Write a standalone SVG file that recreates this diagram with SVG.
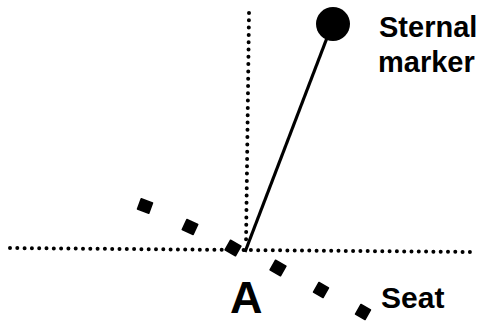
<svg xmlns="http://www.w3.org/2000/svg" width="485" height="328" viewBox="0 0 485 328">
<style>
.dot{fill:none;stroke:#000;stroke-width:4;stroke-linecap:round;stroke-dasharray:0 7.3}
.sq{fill:#000;stroke:#000;stroke-width:1.5;stroke-linejoin:round}
.lbl{font-family:"Liberation Sans",Arial,sans-serif;font-weight:bold;fill:#000}
</style>
<rect width="485" height="328" fill="#fff"/>
<g id="axes">
<line class="dot" x1="10" y1="248" x2="476" y2="252"/>
<line class="dot" x1="249" y1="13" x2="246" y2="245"/>
</g>
<g id="connectors">
<line x1="330" y1="30" x2="245" y2="252" stroke="#000" stroke-width="3.2"/>
</g>
<g id="sternal-marker">
<circle cx="333" cy="24" r="17" fill="#000"/>
<text class="lbl" x="379" y="37" font-size="29">Sternal</text>
<text class="lbl" x="378" y="72" font-size="29">marker</text>
</g>
<g id="seat">
<rect class="sq" x="-6" y="-5.5" width="12" height="11" transform="translate(145,206) rotate(20)"/>
<rect class="sq" x="-6" y="-5.5" width="12" height="11" transform="translate(190,227) rotate(25)"/>
<rect class="sq" x="-6" y="-5.5" width="12" height="11" transform="translate(233,248) rotate(30)"/>
<rect class="sq" x="-6" y="-5.5" width="12" height="11" transform="translate(278,268) rotate(30)"/>
<rect class="sq" x="-5.5" y="-5.5" width="11" height="11" transform="translate(321,290) rotate(30)"/>
<rect class="sq" x="-5.5" y="-5.5" width="11" height="11" transform="translate(363,312) rotate(30)"/>
<text class="lbl" x="381" y="308" font-size="30">Seat</text>
</g>
<g id="point-a">
<text class="lbl" x="230" y="313" font-size="45">A</text>
</g>
</svg>
